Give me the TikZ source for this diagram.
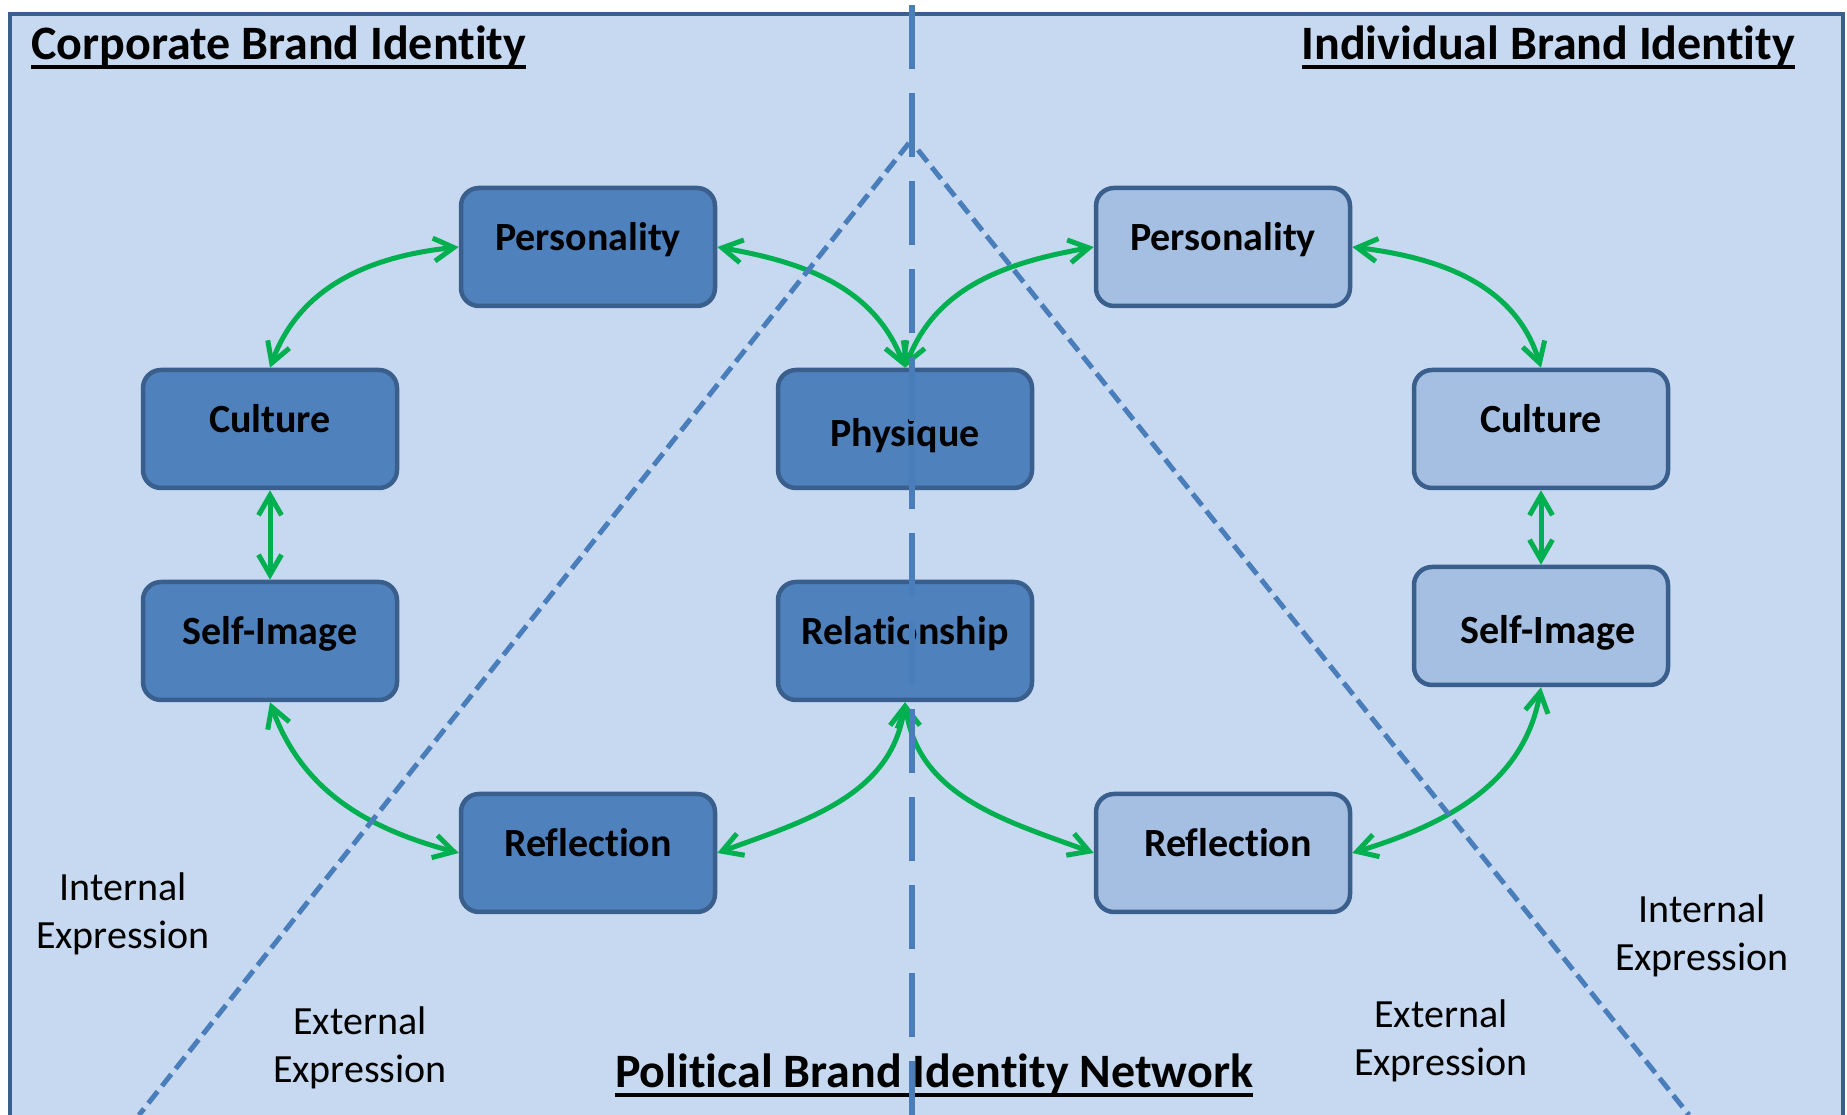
\documentclass[tikz,border=0pt]{standalone}
\usepackage{fontspec}
\setmainfont{Carlito}[Ligatures=NoCommon]
\usetikzlibrary{arrows.meta}

\definecolor{bgblue}{HTML}{C6D9F0}
\definecolor{edgeblue}{HTML}{3B5F8C}
\definecolor{darkbox}{HTML}{4F81BD}
\definecolor{lightbox}{HTML}{A4BFE2}
\definecolor{dashblue}{HTML}{4A7EBB}
\definecolor{arrowgreen}{HTML}{00B050}

\newcommand{\headline}[1]{\setbox0\hbox{#1}\rlap{\rule[-9pt]{\wd0}{4pt}}\box0}

\tikzset{
	idbox/.style={draw=edgeblue, line width=4.5pt, rounded corners=18pt, minimum width=254pt, minimum height=118pt, text height=22pt, text depth=15.6pt, font=\fontsize{40}{48}\selectfont\bfseries},
	corpbox/.style={idbox, fill=darkbox},
	indbox/.style={idbox, fill=lightbox},
	lowtext/.style={text height=42pt, text depth=6pt},
	link/.style={arrowgreen, line width=5pt, {Straight Barb[length=20pt,width=23pt]}-{Straight Barb[length=20pt,width=23pt]}},
	zone/.style={dashblue, line width=5pt, dash pattern=on 15pt off 7pt},
	divide/.style={dashblue, line width=6.7pt, dash pattern=on 64pt off 24pt},
	heading/.style={font=\fontsize{48}{56}\selectfont\bfseries, inner sep=0pt},
	region/.style={font=\fontsize{40}{48}\selectfont, align=center, inner sep=0pt}
}

\begin{document}
\begin{tikzpicture}[x=1pt,y=1pt]
	\useasboundingbox (0,0) rectangle (1847,1115);
	\fill[white] (0,0) rectangle (1847,1115);
	\fill[bgblue] (10,-20) rectangle (1843,1101);
	\draw[edgeblue, line width=4.3pt] (10,-20) rectangle (1843,1101);

	% corporate side
	\node[corpbox] (cp) at (588,868) {Personality};
	\node[corpbox] (cc) at (270,686) {Culture};
	\node[corpbox] (cs) at (270,474) {Self-Image\hspace{14pt}};
	\node[corpbox] (cr) at (588,262) {Reflection\hspace{18pt}};
	% shared boxes
	\node[corpbox, lowtext] (ph) at (905,686) {Physique};
	\node[corpbox] (rl) at (905,474) {Relationship};
	% individual side
	\node[indbox] (ip) at (1223,868) {Personality};
	\node[indbox] (ic) at (1541,686) {Culture};
	\node[indbox, lowtext] (is) at (1541,489) {\hspace{14pt}Self-Image};
	\node[indbox] (ir) at (1223,262) {\hspace{10pt}Reflection};

	\draw[link] (cp.west) to[out=186, in=70] (cc.north);
	\draw[link] (cc.south) -- (cs.north);
	\draw[link] (cs.south) to[out=-70, in=165] (cr.west);
	\draw[link] (cp.east) to[out=-10, in=111] (ph.north);
	\draw[link] (ip.west) to[out=190, in=69] (ph.north);
	\draw[link] (ip.east) to[out=-7, in=107] (ic.north);
	\draw[link] (ic.south) -- (is.north);
	\draw[link] (is.south) to[out=-100, in=17] (ir.east);
	\draw[link] (rl.south) to[out=-98, in=20] (cr.east);
	\draw[link] (rl.south) to[out=-82, in=160] (ir.west);

	% internal / external split
	\coordinate (apexl) at (909,972);
	\coordinate (apexr) at (918,965);
	\coordinate (footl) at (139,0);
	\coordinate (footr) at (1689,0);
	\draw[zone] (apexl) -- (footl);
	\draw[zone] (apexr) -- (footr);

	\node[region] (inl) at (123,201) {Internal\\Expression};
	\node[region] (exl) at (360,67) {External\\Expression};
	\node[region] (inr) at (1702,179) {Internal\\Expression};
	\node[region] (exr) at (1441,74) {External\\Expression};

	\node[heading, anchor=base west] (corp) at (31,1055) {\headline{Corporate Brand Identity}};
	\node[heading, anchor=base east] (indiv) at (1795,1055) {\headline{Individual Brand Identity}};
	\node[heading, anchor=base] (pol) at (934,27) {\headline{Political Brand Identity Network}};

	% corporate / individual split
	\coordinate (topmid) at (912,1110);
	\coordinate (botmid) at (912,0);
	\draw[divide] (topmid) -- (botmid);
\end{tikzpicture}
\end{document}
